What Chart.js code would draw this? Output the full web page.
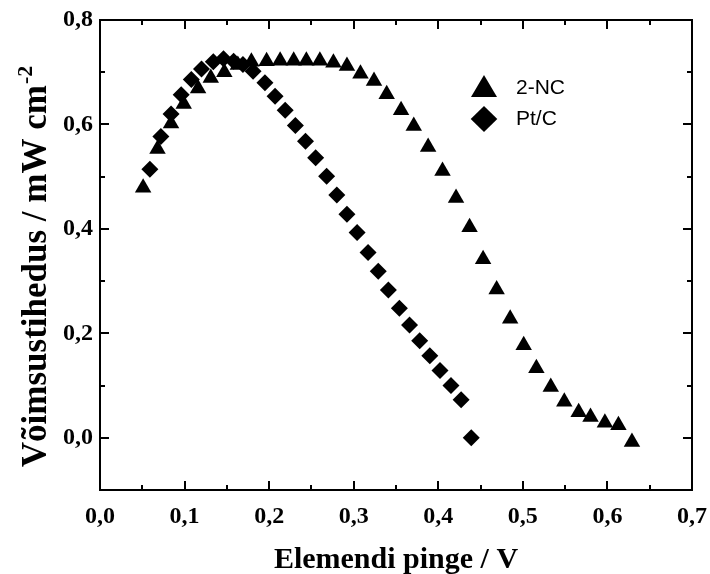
<!DOCTYPE html>
<html><head><meta charset="utf-8">
<script src="https://cdn.jsdelivr.net/npm/chart.js@4.4.0/dist/chart.umd.min.js"></script>
<style>html,body{margin:0;padding:0;background:#fff}#wrap{width:710px;height:574px}</style>
</head><body><div id="wrap"><canvas id="c" width="710" height="574"></canvas></div>
<script>
// ---- data ----
const seriesNames = ['2-NC', 'Pt/C'];
const ncVoltage = [0.051, 0.068, 0.084, 0.099, 0.116, 0.131, 0.147, 0.163, 0.179, 0.197, 0.213, 0.229, 0.244, 0.260, 0.276, 0.292, 0.308, 0.324, 0.339, 0.356, 0.371, 0.388, 0.405, 0.421, 0.437, 0.453, 0.469, 0.485, 0.501, 0.516, 0.533, 0.549, 0.566, 0.580, 0.597, 0.613, 0.629];
const ncPower = [0.479, 0.553, 0.602, 0.639, 0.669, 0.689, 0.700, 0.714, 0.720, 0.721, 0.722, 0.722, 0.722, 0.722, 0.718, 0.712, 0.697, 0.683, 0.658, 0.627, 0.597, 0.557, 0.511, 0.459, 0.403, 0.342, 0.284, 0.228, 0.177, 0.133, 0.097, 0.069, 0.049, 0.040, 0.029, 0.024, -0.008];
const ptVoltage = [0.059, 0.072, 0.084, 0.096, 0.108, 0.120, 0.134, 0.146, 0.158, 0.169, 0.181, 0.195, 0.207, 0.219, 0.231, 0.243, 0.255, 0.268, 0.280, 0.292, 0.304, 0.317, 0.329, 0.341, 0.354, 0.366, 0.378, 0.390, 0.402, 0.415, 0.427, 0.439];
const ptPower = [0.514, 0.577, 0.620, 0.657, 0.686, 0.706, 0.720, 0.726, 0.721, 0.715, 0.702, 0.680, 0.654, 0.627, 0.598, 0.568, 0.536, 0.501, 0.465, 0.428, 0.393, 0.355, 0.319, 0.283, 0.248, 0.216, 0.186, 0.157, 0.129, 0.100, 0.073, 0.000];
const xTickValues = [0.0, 0.1, 0.2, 0.3, 0.4, 0.5, 0.6, 0.7];
const xMinorValues = [0.05, 0.15, 0.25, 0.35, 0.45, 0.55, 0.65];
const yTickValues = [0.0, 0.2, 0.4, 0.6, 0.8];
const yMinorValues = [0.1, 0.3, 0.5, 0.7];
const xTitle = 'Elemendi pinge / V';
const yTitleMain = 'Võimsustihedus / mW cm';
const yTitleSup = '-2';

const fmt = v => Number(v).toFixed(1).replace('.', ',');
const tickFont = {family: '"Liberation Serif", "Times New Roman", serif', size: 24, weight: 'bold'};

const framePlugin = {
  id: 'frame',
  afterDraw(chart) {
    const ctx = chart.ctx, a = chart.chartArea;
    const xs = chart.scales.x, ys = chart.scales.y;
    ctx.save();
    ctx.strokeStyle = '#000';
    ctx.lineWidth = 2;
    ctx.strokeRect(a.left, a.top, a.right - a.left, a.bottom - a.top);
    const tick = (vals, len, horiz) => {
      vals.forEach(v => {
        if (horiz) {
          const px = Math.round(xs.getPixelForValue(v));
          ctx.beginPath(); ctx.moveTo(px, a.bottom); ctx.lineTo(px, a.bottom - len); ctx.stroke();
          ctx.beginPath(); ctx.moveTo(px, a.top); ctx.lineTo(px, a.top + len); ctx.stroke();
        } else {
          const py = Math.round(ys.getPixelForValue(v));
          ctx.beginPath(); ctx.moveTo(a.left, py); ctx.lineTo(a.left + len, py); ctx.stroke();
          ctx.beginPath(); ctx.moveTo(a.right, py); ctx.lineTo(a.right - len, py); ctx.stroke();
        }
      });
    };
    tick(xTickValues.slice(1, -1), 9, true);
    tick(xMinorValues, 5, true);
    tick(yTickValues.slice(0, -1), 9, false);
    tick(yMinorValues, 5, false);

    ctx.fillStyle = '#000';
    // x title
    ctx.font = 'bold 30px "Liberation Serif", serif';
    ctx.textAlign = 'center';
    ctx.textBaseline = 'alphabetic';
    ctx.fillText(xTitle, (a.left + a.right) / 2, 568);
    // y title
    ctx.save();
    ctx.translate(46, 267);
    ctx.rotate(-Math.PI / 2);
    ctx.font = 'bold 35px "Liberation Serif", serif';
    const w1 = ctx.measureText(yTitleMain).width;
    ctx.font = 'bold 22px "Liberation Serif", serif';
    const w2 = ctx.measureText(yTitleSup).width;
    const start = -(w1 + w2) / 2;
    ctx.textAlign = 'left';
    ctx.font = 'bold 35px "Liberation Serif", serif';
    ctx.fillText(yTitleMain, start, 0);
    ctx.font = 'bold 22px "Liberation Serif", serif';
    ctx.fillText(yTitleSup, start + w1 + 1, -14);
    ctx.restore();

    // legend
    const lx = 484;
    ctx.beginPath();
    ctx.moveTo(lx, 75); ctx.lineTo(lx + 13, 97); ctx.lineTo(lx - 13, 97); ctx.closePath(); ctx.fill();
    ctx.beginPath();
    ctx.moveTo(lx, 106); ctx.lineTo(lx + 13.3, 119); ctx.lineTo(lx, 132); ctx.lineTo(lx - 13.3, 119); ctx.closePath(); ctx.fill();
    ctx.font = '21px "Liberation Sans", Arial, sans-serif';
    ctx.textAlign = 'left';
    ctx.textBaseline = 'middle';
    ctx.fillText(seriesNames[0], 516, 88);
    ctx.fillText(seriesNames[1], 516, 119);
    ctx.restore();
  }
};

const toPts = (xs, ys) => xs.map((x, i) => ({x: x, y: ys[i]}));

new Chart(document.getElementById('c'), {
  type: 'scatter',
  data: {
    datasets: [
      {label: seriesNames[0], data: toPts(ncVoltage, ncPower), pointStyle: 'triangle', pointRadius: 9.5,
       backgroundColor: '#000', borderColor: '#000', borderWidth: 0, pointHoverRadius: 9.5},
      {label: seriesNames[1], data: toPts(ptVoltage, ptPower), pointStyle: 'rectRot', pointRadius: 8.5,
       backgroundColor: '#000', borderColor: '#000', borderWidth: 0, pointHoverRadius: 8.5}
    ]
  },
  options: {
    responsive: false,
    animation: false,
    devicePixelRatio: 1,
    layout: {padding: {left: 0, right: 18, top: 20, bottom: 0}},
    plugins: {legend: {display: false}, tooltip: {enabled: false}},
    scales: {
      x: {
        type: 'linear', position: 'bottom', min: 0, max: 0.7,
        grid: {display: false, drawTicks: false}, border: {display: false},
        ticks: {font: tickFont, color: '#000', padding: 12, maxRotation: 0, autoSkip: false, callback: v => fmt(v)},
        afterBuildTicks: s => { s.ticks = xTickValues.map(v => ({value: v})); },
        afterFit: s => { s.height = 84; s.paddingLeft = 0; s.paddingRight = 0; }
      },
      y: {
        type: 'linear', position: 'left', min: -0.1, max: 0.8,
        grid: {display: false, drawTicks: false}, border: {display: false},
        ticks: {font: tickFont, color: '#000', padding: 7, autoSkip: false, callback: v => fmt(v)},
        afterBuildTicks: s => { s.ticks = yTickValues.map(v => ({value: v})); },
        afterFit: s => { s.width = 100; s.paddingTop = 0; s.paddingBottom = 0; }
      }
    }
  },
  plugins: [framePlugin]
});
</script></body></html>
